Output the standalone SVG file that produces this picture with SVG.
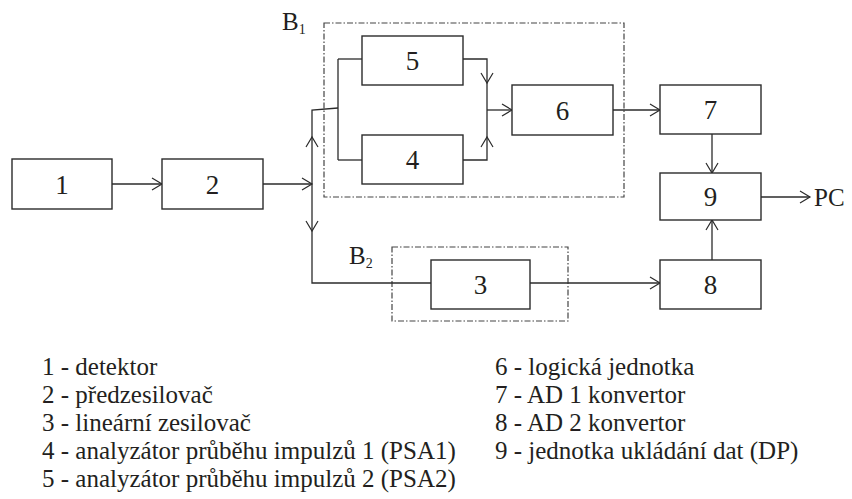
<svg xmlns="http://www.w3.org/2000/svg" width="852" height="499" viewBox="0 0 852 499" font-family="'Liberation Serif', 'DejaVu Serif', 'Times New Roman', serif">
<defs>
<marker id="arr" viewBox="0 0 10 12" refX="10" refY="6" markerWidth="10" markerHeight="12" markerUnits="userSpaceOnUse" orient="auto" overflow="visible">
<path d="M0,0 L10,6 L0,12" fill="none" stroke="#2b2b2b" stroke-width="1.2"/>
</marker>
</defs>
<style>
.box{fill:#fff;stroke:#2b2b2b;stroke-width:1.4}
.grp{fill:none;stroke:#444;stroke-width:1.2;stroke-dasharray:6,2,1.5,2}
.ln{fill:none;stroke:#2b2b2b;stroke-width:1.3}
.ar{marker-end:url(#arr)}
text{font-family:'Liberation Serif','DejaVu Serif','Times New Roman',serif;fill:#231f20}
.num{font-size:27px;text-anchor:middle}
.lbl{font-size:25px}
.sub{font-size:14px}
.leg{font-size:25px}
</style>
<rect width="852" height="499" fill="#fff"/>
<g id="B1">
<rect class="grp" x="324" y="23" width="300" height="174"/>
<text class="lbl" x="282" y="30">B<tspan class="sub" dy="4">1</tspan></text>
</g>
<g id="B2">
<rect class="grp" x="392" y="247" width="176" height="74"/>
<text class="lbl" x="349" y="264">B<tspan class="sub" dy="4">2</tspan></text>
</g>
<g id="connectors">
<path class="ln ar" d="M112,184 H162"/>
<path class="ln ar" d="M263,184 H312"/>
<path class="ln ar" d="M312,184 V137"/>
<path class="ln" d="M312,137 V110 L338,108"/>
<path class="ln ar" d="M312,184 V231"/>
<path class="ln" d="M312,231 V283 H431"/>
<path class="ln" d="M338,59 V160"/>
<path class="ln" d="M338,59 H362"/>
<path class="ln" d="M338,160 H362"/>
<path class="ln ar" d="M463,59 H487 V83"/>
<path class="ln" d="M487,83 V110"/>
<path class="ln ar" d="M463,160 H487 V137"/>
<path class="ln" d="M487,137 V110"/>
<path class="ln ar" d="M487,110 H512"/>
<path class="ln ar" d="M613,110 H660"/>
<path class="ln ar" d="M712,134 V173"/>
<path class="ln ar" d="M712,260 V220"/>
<path class="ln ar" d="M761,197 H810"/>
<path class="ln ar" d="M530,283 H660"/>
</g>
<g id="n1"><rect class="box" x="12" y="159" width="100" height="50"/><text class="num" x="62" y="194">1</text></g>
<g id="n2"><rect class="box" x="162" y="159" width="101" height="50"/><text class="num" x="212.5" y="194">2</text></g>
<g id="n5"><rect class="box" x="362" y="36" width="101" height="49"/><text class="num" x="412.5" y="70">5</text></g>
<g id="n4"><rect class="box" x="362" y="135" width="101" height="49"/><text class="num" x="412.5" y="169">4</text></g>
<g id="n6"><rect class="box" x="512" y="85" width="101" height="50"/><text class="num" x="562.5" y="120">6</text></g>
<g id="n7"><rect class="box" x="660" y="85" width="101" height="49"/><text class="num" x="710.5" y="119">7</text></g>
<g id="n9"><rect class="box" x="660" y="173" width="101" height="47"/><text class="num" x="710.5" y="206">9</text></g>
<g id="n8"><rect class="box" x="660" y="260" width="101" height="49"/><text class="num" x="710.5" y="294">8</text></g>
<g id="n3"><rect class="box" x="431" y="260" width="99" height="49"/><text class="num" x="480.5" y="294">3</text></g>
<g id="pc"><text class="lbl" x="814" y="206">PC</text></g>
<g id="legend">
<text class="leg" x="42" y="375">1 - detektor</text>
<text class="leg" x="42" y="403">2 - předzesilovač</text>
<text class="leg" x="42" y="431">3 - lineární zesilovač</text>
<text class="leg" x="42" y="459">4 - analyzátor průběhu impulzů 1 (PSA1)</text>
<text class="leg" x="42" y="487">5 - analyzátor průběhu impulzů 2 (PSA2)</text>
<text class="leg" x="495" y="375">6 - logická jednotka</text>
<text class="leg" x="495" y="403">7 - AD 1 konvertor</text>
<text class="leg" x="495" y="431">8 - AD 2 konvertor</text>
<text class="leg" x="495" y="459">9 - jednotka ukládání dat (DP)</text>
</g>
</svg>
